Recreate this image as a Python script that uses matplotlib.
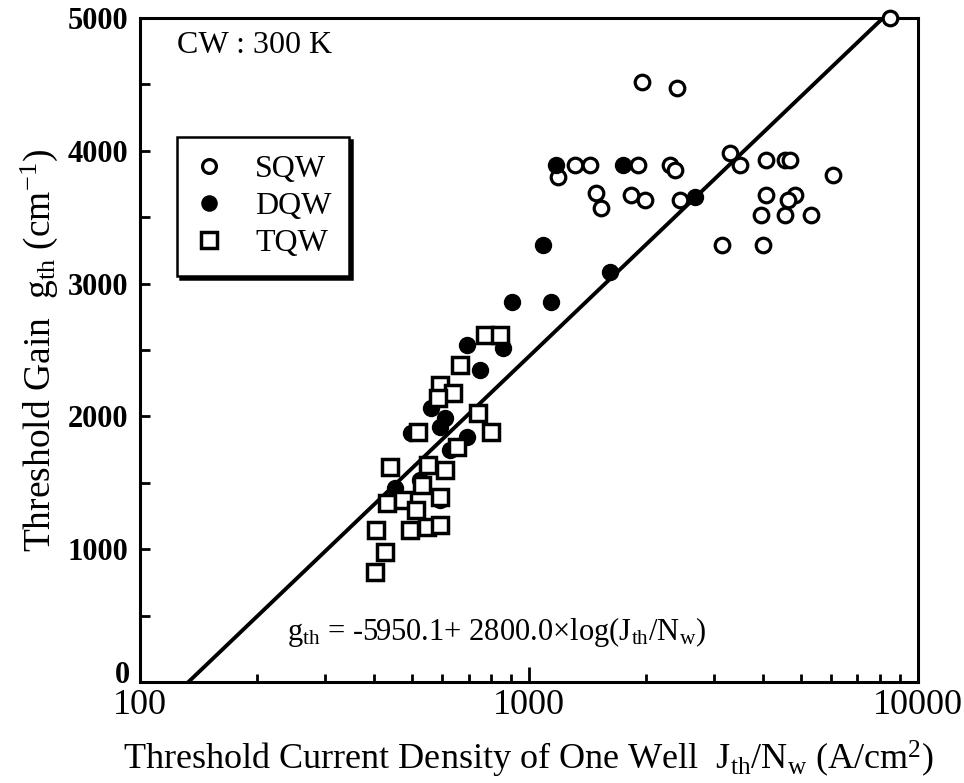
import numpy as np
import matplotlib

matplotlib.use("Agg")
import matplotlib.pyplot as plt
from matplotlib.ticker import FixedLocator, NullFormatter

plt.rcParams["font.family"] = ["Liberation Serif", "DejaVu Serif"]
plt.rcParams["mathtext.fontset"] = "custom"
plt.rcParams["mathtext.rm"] = "Liberation Serif"
plt.rcParams["mathtext.it"] = "Liberation Serif:italic"

# SQW (open circles)
sqw_j = [8470, 1960, 2405, 1189, 1313, 1435, 1910, 2304, 2373, 3287, 3487, 4084,
         4552, 4688, 6058, 1493, 1538, 1837, 1987, 2444, 4084, 4829, 4641, 3965,
         4552, 5330, 3130, 4003]
sqw_g = [5000, 4520, 4470, 3805, 3893, 3893, 3893, 3893, 3855, 3981, 3893, 3931,
         3931, 3931, 3818, 3680, 3567, 3667, 3629, 3629, 3667, 3667, 3629, 3516,
         3516, 3516, 3291, 3291]

# DQW (filled circles)
dqw_j = [1178, 1748, 2671, 1086, 1616, 1144, 903, 692, 859, 748, 562, 499, 590,
         692, 626, 608, 525, 452, 590]
dqw_g = [3893, 3893, 3654, 3291, 3090, 2864, 2864, 2538, 2513, 2349, 2061, 1873,
         1922, 1847, 1747, 1988, 1521, 1461, 1370]

# TQW (open squares)
tqw_j = [771, 842, 665, 590, 639, 585, 741, 802, 519, 652, 439, 551, 608, 530,
         590, 431, 475, 514, 494, 546, 590, 406, 427, 402]
tqw_g = [2613, 2613, 2387, 2236, 2174, 2136, 2023, 1885, 1885, 1772, 1621, 1634,
         1596, 1483, 1395, 1346, 1370, 1295, 1145, 1169, 1182, 1145, 981, 831]

# fit: g = a + b*log10(J)
fit_a = -5950.1
fit_b = 2800.0

x_ticks = [100, 1000, 10000]
y_ticks = [0, 1000, 2000, 3000, 4000, 5000]

fig = plt.figure(figsize=(9.64, 7.83), dpi=100)
ax = fig.add_axes([0.145, 0.129, 0.807, 0.848])

g_line = np.array([0.0, 5000.0])
j_line = 10 ** ((g_line - fit_a) / fit_b)
ax.plot(j_line, g_line, color="black", lw=2.8, zorder=2)

ax.plot(sqw_j, sqw_g, "o", ms=10.5, mfc="white", mec="black", mew=2.3,
        ls="none", label="SQW", zorder=3, clip_on=False)
ax.plot(dqw_j, dqw_g, "o", ms=11.5, mfc="black", mec="black", mew=1,
        ls="none", label="DQW", zorder=4)
ax.plot(tqw_j, tqw_g, "s", ms=11.5, mfc="white", mec="black", mew=2.5,
        ls="none", label="TQW", zorder=5)

ax.set_xscale("log")
ax.set_xlim(100, 10000)
ax.set_ylim(0, 5000)

ax.xaxis.set_major_locator(FixedLocator(x_ticks))
ax.xaxis.set_minor_locator(FixedLocator(
    [k * 100 for k in range(2, 10)] + [k * 1000 for k in range(2, 10)]))
ax.xaxis.set_minor_formatter(NullFormatter())
ax.set_xticklabels([str(v) for v in x_ticks])
ax.yaxis.set_major_locator(FixedLocator(y_ticks))
ax.yaxis.set_minor_locator(FixedLocator([500, 1500, 2500, 3500, 4500]))
# the "0" label is drawn separately, nudged up clear of "100"
ax.set_yticklabels([""] + [str(v) for v in y_ticks[1:]])

ax.tick_params(axis="both", which="both", direction="in", top=False, right=False,
               width=2)
ax.tick_params(axis="x", which="major", length=11, labelsize=26, pad=5)
ax.tick_params(axis="x", which="minor", length=6)
ax.tick_params(axis="y", which="both", length=7, labelsize=22, pad=8)
for lbl in ax.get_yticklabels():
    lbl.set_fontweight("bold")
ax.text(-0.012, 0.01, "0", transform=ax.transAxes, fontsize=22,
        fontweight="bold", ha="right", va="center")

for sp in ax.spines.values():
    sp.set_linewidth(2.2)

ax.set_xlabel(r"Threshold Current Density of One Well  $\mathrm{J_{th}/N_{w}}$ (A/cm$^{\mathrm{2}}$)",
              fontsize=26, labelpad=12)
ax.set_ylabel(r"Threshold Gain  $\mathrm{g_{th}}$ (cm$^{\mathrm{-1}}$)", fontsize=27, labelpad=6)

ax.text(0.048, 0.958, "CW : 300 K", transform=ax.transAxes, fontsize=23,
        ha="left", va="center")
ax.text(0.459, 0.075,
        r"$\mathrm{g_{th}}$ = -5950.1+ 2800.0" + "\u00d7" + r"log($\mathrm{J_{th}/N_{w}}$)",
        transform=ax.transAxes, fontsize=22, ha="center", va="center")

leg = ax.legend(loc="upper left", bbox_to_anchor=(0.0476, 0.821), fontsize=23,
                frameon=True, fancybox=False, shadow={"color": "black", "alpha": 1},
                handletextpad=1.0, borderpad=0.55, labelspacing=0.25,
                borderaxespad=0, handlelength=0.9, markerscale=0.95)
leg.get_frame().set_edgecolor("black")
leg.get_frame().set_linewidth(1.8)

fig.savefig("out.png", dpi=100)
